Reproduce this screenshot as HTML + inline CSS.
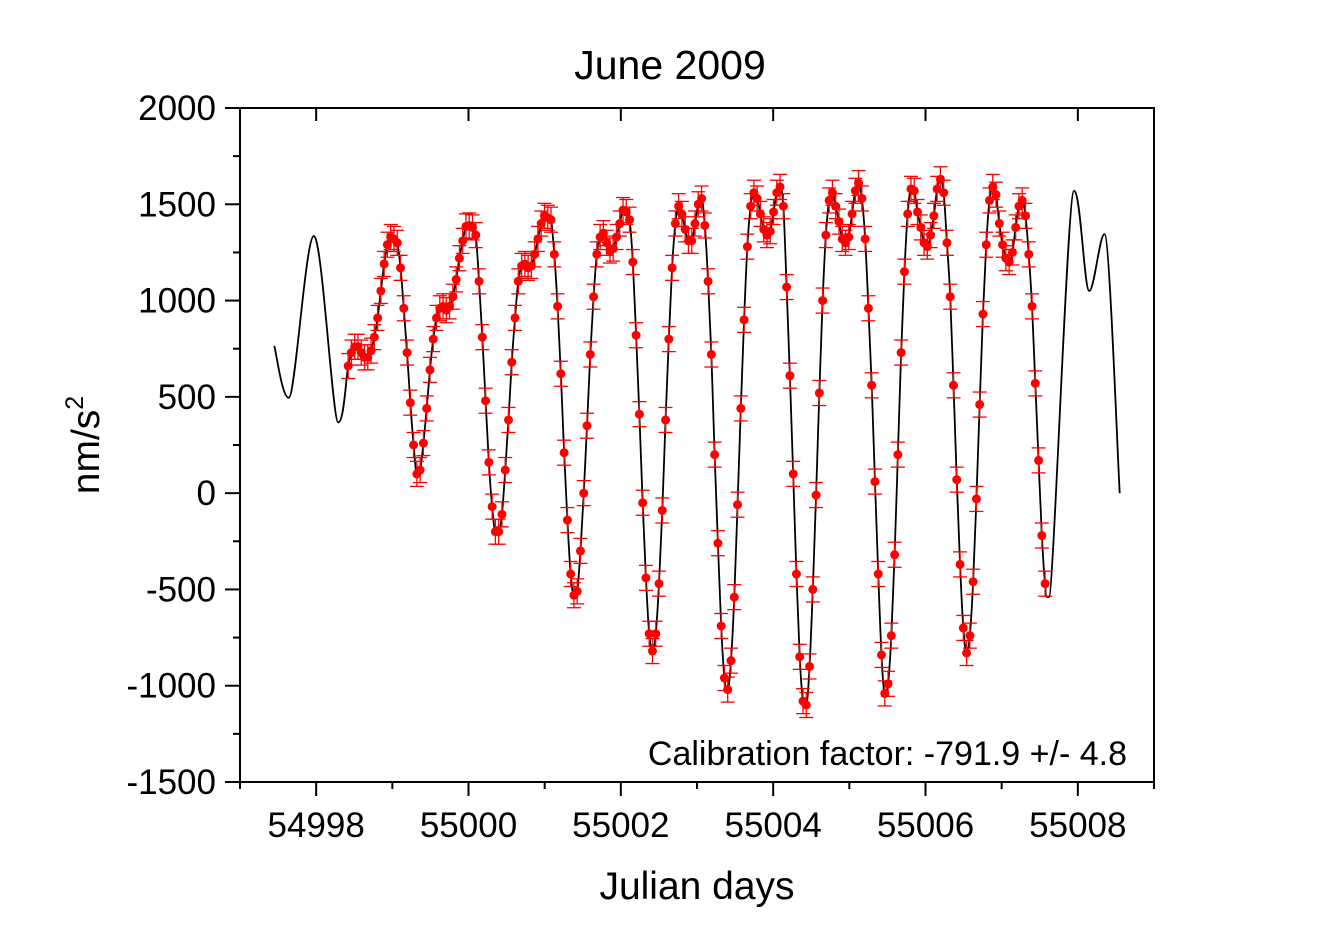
<!DOCTYPE html>
<html><head><meta charset="utf-8"><style>
body{margin:0;background:#fff}
svg text{font-family:"Liberation Sans",Arial,sans-serif;fill:#000}
</style></head><body>
<svg id="chart" width="1340" height="940" xmlns="http://www.w3.org/2000/svg">
<rect width="1340" height="940" fill="#fff"/>
<text x="670" y="79" font-size="41" text-anchor="middle">June 2009</text>
<text x="697" y="899" font-size="39" text-anchor="middle">Julian days</text>
<text transform="translate(99,445) rotate(-90)" font-size="39" text-anchor="middle">nm/s<tspan dy="-16" font-size="25">2</tspan></text>
<g id="axes"></g>
<g id="plot"></g>
<text x="1127" y="765" font-size="34" text-anchor="end">Calibration factor: -791.9 +/- 4.8</text>
</svg>
<script>
// Model curve extrema outside the measurement window (time in Julian days, value in nm/s^2)
const modelTimes = [54997.45,54997.64,54997.97,54998.29,55007.62,55007.95,55008.15,55008.35,55008.55];
const modelValues = [765,495,1335,367,-540,1570,1050,1345,0];
// Measurements: first sample time and sampling step (days)
const sampleStart = 54998.42;
const sampleStep = 0.04296;
const measuredValues = [660,730,760,760,730,705,705,740,810,910,1050,1190,1290,1330,1320,1300,1170,960,730,470,250,100,120,260,440,640,800,910,960,970,950,970,1020,1110,1220,1310,1385,1390,1380,1340,1100,810,480,160,-70,-200,-200,-110,120,380,680,910,1100,1180,1190,1170,1180,1240,1320,1400,1440,1430,1420,1240,970,620,210,-140,-420,-530,-510,-300,0,350,720,1020,1240,1330,1350,1300,1260,1270,1330,1400,1470,1460,1420,1200,820,410,-50,-440,-730,-820,-730,-470,-90,380,800,1170,1400,1490,1450,1370,1310,1310,1400,1500,1530,1390,1100,720,200,-260,-690,-960,-1020,-870,-540,-60,440,900,1280,1490,1560,1530,1450,1370,1340,1360,1460,1560,1590,1490,1070,610,100,-420,-850,-1080,-1100,-900,-500,-10,520,1000,1340,1520,1560,1490,1410,1320,1300,1330,1450,1570,1610,1530,1320,960,560,60,-420,-840,-1040,-990,-740,-320,200,730,1150,1450,1580,1570,1460,1380,1300,1280,1340,1440,1580,1630,1560,1300,1020,560,70,-370,-700,-830,-740,-460,-30,460,930,1290,1520,1590,1550,1400,1290,1220,1200,1250,1380,1490,1520,1440,1240,970,570,170,-220,-470];
const errorValue = 65;
const yTicks = [-1500,-1000,-500,0,500,1000,1500,2000];
const xTicks = [54998,55000,55002,55004,55006,55008];

const L=240,R=1154,T=108,B=782;
const X0=54997,X1=55009,Y0=-1500,Y1=2000;
const xs=v=>L+(v-X0)/(X1-X0)*(R-L);
const ys=v=>B-(v-Y0)/(Y1-Y0)*(B-T);
const NS="http://www.w3.org/2000/svg";
function mk(tag,attrs,parent){const e=document.createElementNS(NS,tag);for(const k in attrs)e.setAttribute(k,attrs[k]);parent.appendChild(e);return e;}
const axes=document.getElementById('axes'), plot=document.getElementById('plot');

let f=mk('rect',{x:L,y:T,width:R-L,height:B-T,fill:'none',stroke:'#000','stroke-width':2},axes);


for(let v=Y0;v<=Y1;v+=250){
  const major=v%500===0;
  const t=mk('line',{x1:L-(major?15:7),x2:L,y1:ys(v),y2:ys(v),stroke:'#000','stroke-width':2},axes);
  
  
}
yTicks.forEach(v=>{
  const t=mk('text',{x:216,y:ys(v)+12,'font-size':35,'text-anchor':'end'},axes);
  t.textContent=v;
  
  
});
for(let v=X0;v<=X1;v++){
  const major=(v-54998)%2===0;
  const t=mk('line',{x1:xs(v),x2:xs(v),y1:B,y2:B+(major?14:7),stroke:'#000','stroke-width':2},axes);
  
  
  if(major){
    const t2=mk('line',{x1:xs(v),x2:xs(v),y1:T,y2:T+13,stroke:'#000','stroke-width':2},axes);
    
    
  }
}
xTicks.forEach(v=>{
  const t=mk('text',{x:xs(v),y:837,'font-size':35,'text-anchor':'middle'},axes);
  t.textContent=v;
  
  
});

const knots=[];
modelTimes.forEach((t,i)=>{ if(t<sampleStart) knots.push([t,modelValues[i]]); });
measuredValues.forEach((v,k)=>knots.push([sampleStart+k*sampleStep,v]));
modelTimes.forEach((t,i)=>{ if(t>sampleStart+(measuredValues.length-1)*sampleStep) knots.push([t,modelValues[i]]); });
const P=knots.map(p=>[xs(p[0]),ys(p[1])]);
// tangents (zero slope at local extrema to avoid overshoot)
const Tg=P.map((p,i)=>{
  const a=P[Math.max(0,i-1)],b=P[Math.min(P.length-1,i+1)];
  let tx=(b[0]-a[0])/2,ty=(b[1]-a[1])/2;
  if(i>0&&i<P.length-1&&((p[1]-a[1])*(b[1]-p[1])<=0)) ty=0;
  return [tx,ty];
});
let d='M'+P[0][0].toFixed(2)+','+P[0][1].toFixed(2);
for(let i=0;i<P.length-1;i++){
  const p1=P[i],p2=P[i+1];
  const c1=[p1[0]+Tg[i][0]/3,p1[1]+Tg[i][1]/3];
  const c2=[p2[0]-Tg[i+1][0]/3,p2[1]-Tg[i+1][1]/3];
  d+='C'+c1.map(n=>n.toFixed(2)).join(',')+' '+c2.map(n=>n.toFixed(2)).join(',')+' '+p2.map(n=>n.toFixed(2)).join(',');
}
const curve=mk('path',{d:d,fill:'none',stroke:'#000','stroke-width':1.8},plot);



measuredValues.forEach((v,k)=>{
  const t=sampleStart+k*sampleStep;
  const x=xs(t),yt=ys(v+errorValue),yb=ys(v-errorValue);
  const g=mk('g',{stroke:'#ff0000','stroke-width':1.3},plot);
  
  
  mk('line',{x1:x,x2:x,y1:yt,y2:yb},g);
  mk('line',{x1:x-7,x2:x+7,y1:yt,y2:yt},g);
  mk('line',{x1:x-7,x2:x+7,y1:yb,y2:yb},g);
});
measuredValues.forEach((v,k)=>{
  const t=sampleStart+k*sampleStep;
  const c=mk('circle',{cx:xs(t),cy:ys(v),r:4.5,fill:'#ff0000'},plot);
  
  
});
</script>
</body></html>
